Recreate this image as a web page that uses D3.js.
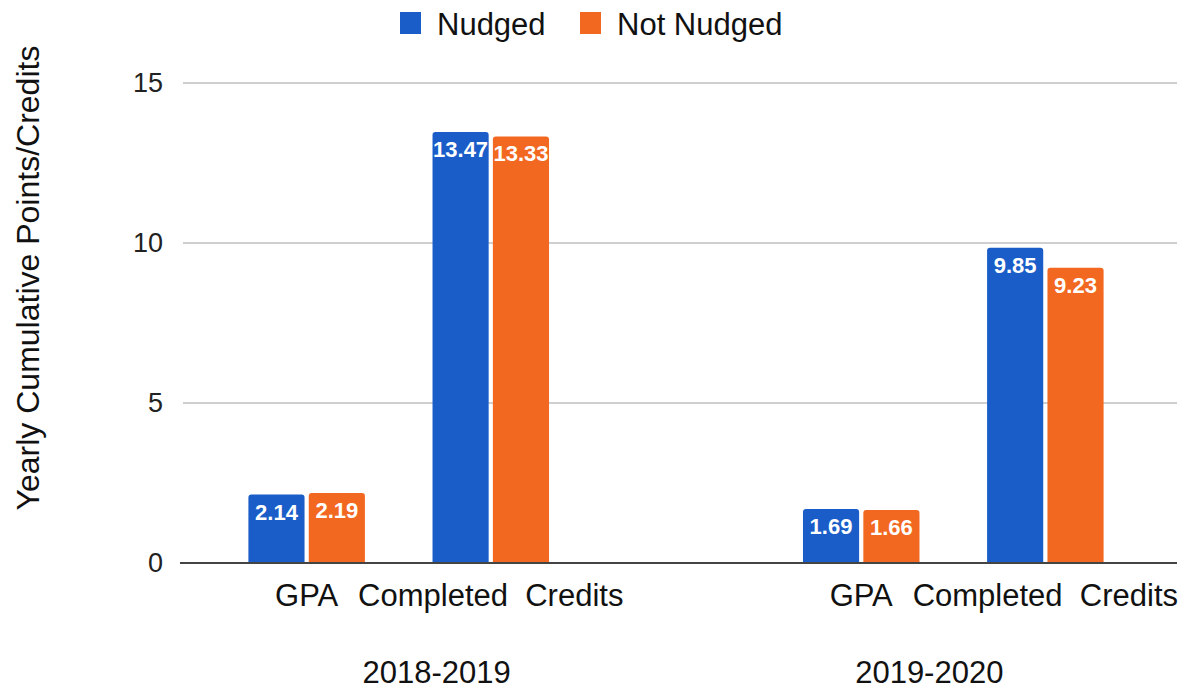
<!DOCTYPE html>
<html>
<head>
<meta charset="utf-8">
<script src="https://cdn.jsdelivr.net/npm/d3@7"></script>
<style>
  body { margin: 0; background: #fff; }
  svg { font-family: "Liberation Sans", Arial, sans-serif; }
</style>
</head>
<body>
<div class="chart"></div>
<script>
//Data
var years = ["2018-2019", "2019-2020"];
var metrics = ["GPA", "Completed  Credits"];
var seriesNames = ["Nudged", "Not Nudged"];
var nudged = [2.14, 13.47, 1.69, 9.85];
var notNudged = [2.19, 13.33, 1.66, 9.23];
var yTicks = [0, 5, 10, 15];
var colors = ["#1a5dc8", "#f36820"];

var svgWidth = 1191;
var svgHeight = 692;

// year labels sit a bit off the group centre in the original
var yearLabelShift = [38, -24];

var svg = d3.select(".chart")
  .append("svg")
  .attr("width", svgWidth)
  .attr("height", svgHeight);

// flatten rows
var rows = [];
years.forEach(function(yr, i) {
  metrics.forEach(function(m, j) {
    var k = i * metrics.length + j;
    rows.push({year: yr, metric: m, values: [nudged[k], notNudged[k]]});
  });
});

// Scales
var x0 = d3.scaleBand()
  .domain(years)
  .range([178, 1174])
  .paddingInner(0.336)
  .paddingOuter(0.066);

var x1 = d3.scaleBand()
  .domain(metrics)
  .range([0, x0.bandwidth()]);

var x2 = d3.scaleBand()
  .domain(seriesNames)
  .range([0, x1.bandwidth()])
  .paddingInner(0.07)
  .paddingOuter(0.56);

var y = d3.scaleLinear()
  .domain([0, 15])
  .range([563, 83]);

// Gridlines
svg.append("g")
  .selectAll("line")
  .data(yTicks.filter(d => d > 0))
  .enter()
  .append("line")
  .attr("x1", 183)
  .attr("x2", 1177)
  .attr("y1", d => y(d))
  .attr("y2", d => y(d))
  .attr("stroke", "#cfcfcf")
  .attr("stroke-width", 2);

// Y axis labels
var leftAxis = d3.axisLeft(y).tickValues(yTicks).tickSize(0).tickPadding(0);
var yAxisG = svg.append("g")
  .attr("transform", "translate(163,0)")
  .call(leftAxis);
yAxisG.select(".domain").remove();
yAxisG.selectAll("text")
  .attr("font-size", "27px")
  .attr("font-family", "Liberation Sans, Arial, sans-serif")
  .attr("fill", "#222");

// Bars
var groups = svg.append("g")
  .selectAll("g")
  .data(rows)
  .enter()
  .append("g")
  .attr("transform", d => `translate(${x0(d.year) + x1(d.metric)},0)`);

groups.selectAll("path")
  .data(d => d.values.map((v, i) => ({name: seriesNames[i], value: v, i: i})))
  .enter()
  .append("path")
  .attr("d", function(d) {
    var x = x2(d.name), w = x2.bandwidth(), top = y(d.value), bot = y(0), r = 3;
    return `M${x},${bot}V${top + r}Q${x},${top} ${x + r},${top}H${x + w - r}Q${x + w},${top} ${x + w},${top + r}V${bot}Z`;
  })
  .attr("fill", d => colors[d.i]);

groups.selectAll("text")
  .data(d => d.values.map((v, i) => ({name: seriesNames[i], value: v, i: i})))
  .enter()
  .append("text")
  .attr("x", d => x2(d.name) + x2.bandwidth() / 2)
  .attr("y", d => y(d.value) + 25)
  .attr("text-anchor", "middle")
  .attr("font-size", "22px")
  .attr("font-weight", "bold")
  .attr("fill", "#fff")
  .text(d => d.value.toFixed(2));

// Baseline
svg.append("line")
  .attr("x1", 180)
  .attr("x2", 1177)
  .attr("y1", y(0))
  .attr("y2", y(0))
  .attr("stroke", "#444")
  .attr("stroke-width", 2);

// Category labels
var bottomAxisG = svg.append("g");
rows.forEach(function(d) {
  bottomAxisG.append("text")
    .attr("x", x0(d.year) + x1(d.metric) + x1.bandwidth() / 2)
    .attr("y", 606)
    .attr("text-anchor", "middle")
    .attr("font-size", "31px")
    .attr("fill", "#111")
    .style("white-space", "pre")
    .text(d.metric);
});

// Year labels
svg.append("g")
  .selectAll("text")
  .data(years)
  .enter()
  .append("text")
  .attr("x", (d, i) => x0(d) + x0.bandwidth() / 2 + yearLabelShift[i])
  .attr("y", 683)
  .attr("text-anchor", "middle")
  .attr("font-size", "31px")
  .attr("fill", "#111")
  .text(d => d);

// Y axis title
svg.append("text")
  .attr("transform", "translate(39,278) rotate(-90)")
  .attr("text-anchor", "middle")
  .attr("font-size", "32px")
  .attr("fill", "#111")
  .text("Yearly Cumulative Points/Credits");

// Legend
var legendX = [400, 580];
var legend = svg.append("g")
  .selectAll("g")
  .data(seriesNames)
  .enter()
  .append("g")
  .attr("transform", (d, i) => `translate(${legendX[i]},12)`);

legend.append("rect")
  .attr("width", 21)
  .attr("height", 22)
  .attr("fill", (d, i) => colors[i]);

legend.append("text")
  .attr("x", 37)
  .attr("y", 23)
  .attr("font-size", "31px")
  .attr("fill", "#111")
  .text(d => d);
</script>
</body>
</html>
